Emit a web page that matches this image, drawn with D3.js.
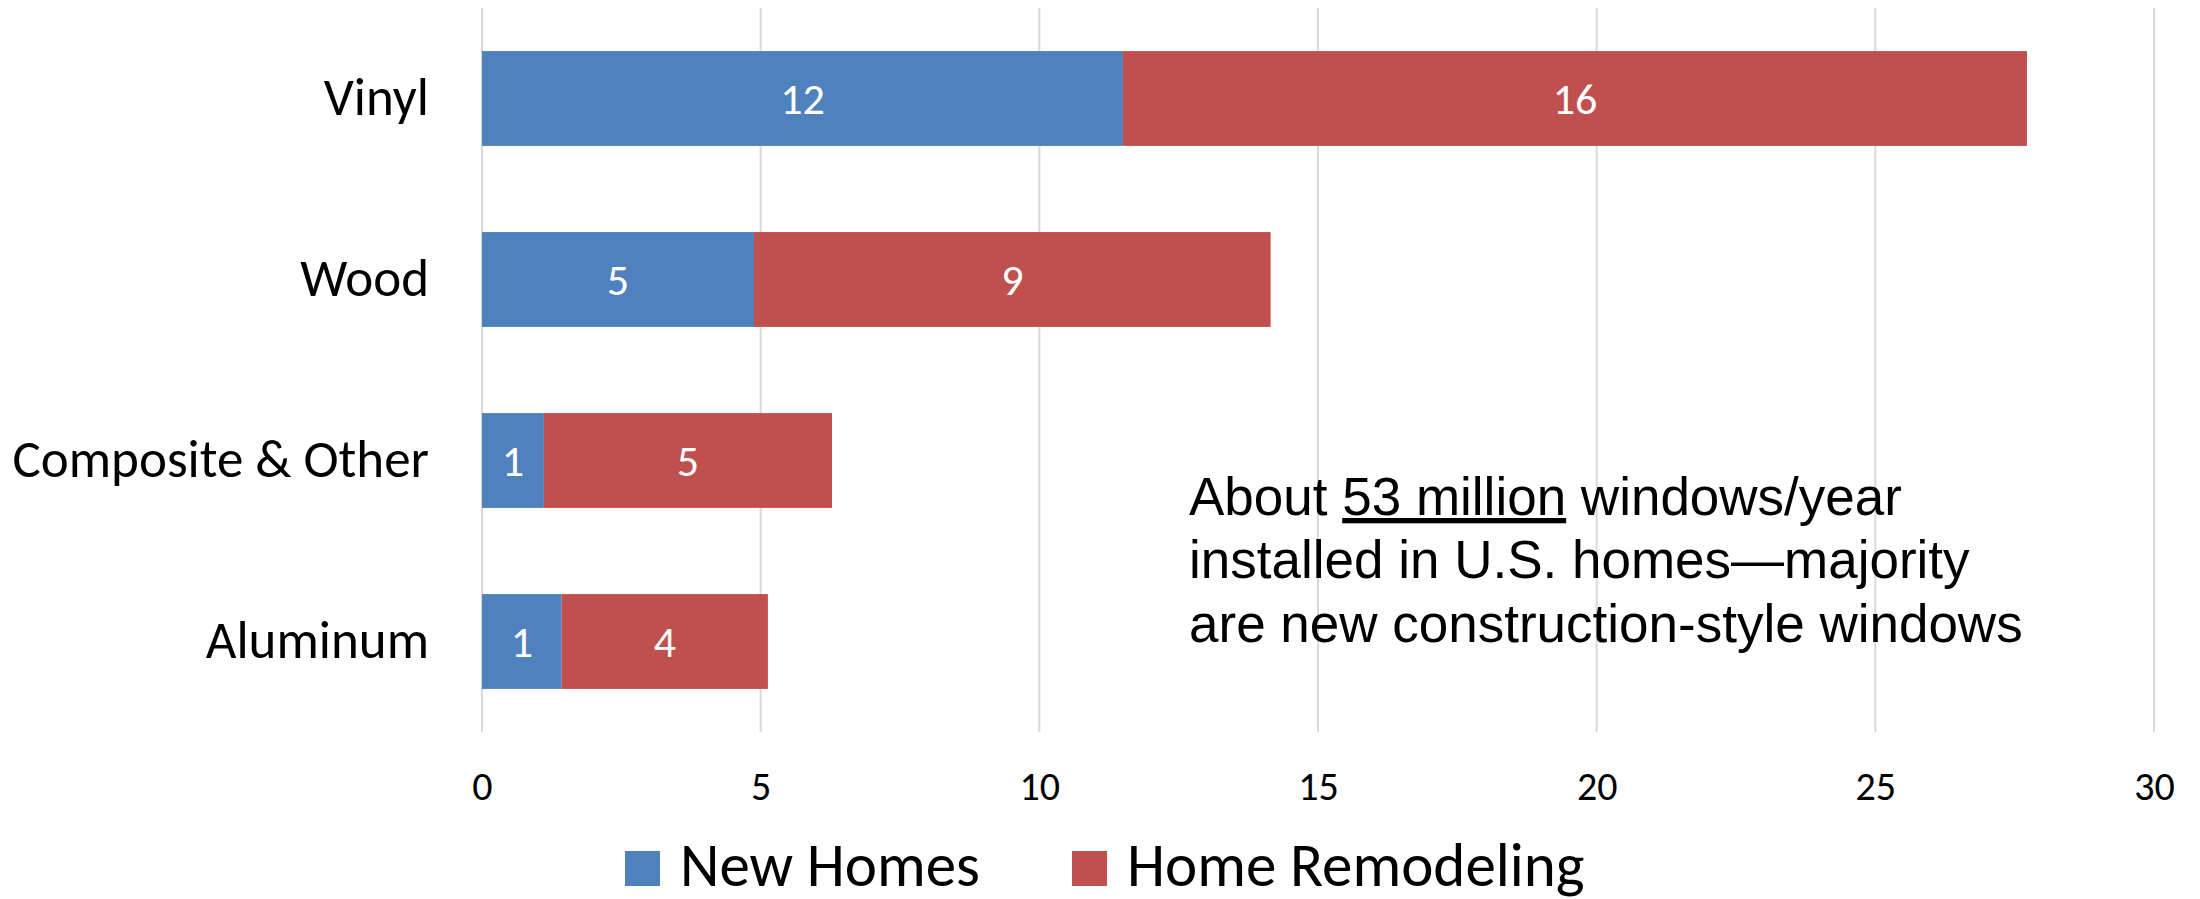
<!DOCTYPE html>
<html lang="en">
<head>
    <meta charset="UTF-8">
    <script src="https://d3js.org/d3.v7.min.js"></script>
    <title>Windows installed</title>
    <style>
        body { margin: 0; background: #fff; }
        .lbl { font-family: Carlito, Calibri, Lato, sans-serif; }
        .note { font-family: Arial, "Liberation Sans", sans-serif; }
    </style>
</head>
<body>
<div id="vis"></div>
<script>
    // values in millions of windows per year
    var categories = ["Vinyl", "Wood", "Composite & Other", "Aluminum"],
        newHomes = [11.5, 4.88, 1.11, 1.43],
        remodeling = [16.22, 9.27, 5.17, 3.70],
        seriesNames = ["New Homes", "Home Remodeling"],
        colors = ["#4F81BD", "#C0504D"],
        xTicks = [0, 5, 10, 15, 20, 25, 30];

    var width = 2200,
        height = 899,
        plotLeft = 482, plotRight = 2154, plotTop = 8, plotBottom = 732,
        svg = d3.select("#vis").append("svg").attr("width", width).attr("height", height);

    var x = d3.scaleLinear().domain([0, 30]).range([plotLeft, plotRight]),
        y = d3.scaleBand().domain(categories).range([plotTop, plotBottom])
            .paddingInner(0.476).paddingOuter(0.238);

    // gridlines
    svg.append("g").selectAll("line").data(xTicks).enter().append("line")
        .attr("x1", function(d){ return x(d); })
        .attr("x2", function(d){ return x(d); })
        .attr("y1", plotTop).attr("y2", plotBottom)
        .style("stroke", "#D9D9D9").style("stroke-width", 2);

    // x axis labels
    var xAxis = d3.axisBottom(x).tickValues(xTicks).tickSize(0).tickPadding(0);
    var gx = svg.append("g").attr("transform", "translate(0,772)").call(xAxis);
    gx.select(".domain").remove();
    gx.selectAll("text").attr("class", "lbl").attr("dy", "0.71em")
        .style("font-size", "40px").style("fill", "#000").style("font-family", null);

    // y axis labels
    var yAxis = d3.axisLeft(y).tickSize(0).tickPadding(0);
    var gy = svg.append("g").attr("transform", "translate(429,0)").call(yAxis);
    gy.select(".domain").remove();
    gy.selectAll("text").attr("class", "lbl")
        .style("font-size", "53px").style("fill", "#000").style("font-family", null);

    // stacked bars
    var rows = categories.map(function(c, i){ return {cat: c, vals: [newHomes[i], remodeling[i]]}; });
    var stack = [];
    rows.forEach(function(r){
        var x0 = 0;
        r.vals.forEach(function(v, s){
            stack.push({cat: r.cat, s: s, x0: x0, x1: x0 + v, v: v});
            x0 += v;
        });
    });

    var seg = svg.append("g").selectAll("g").data(stack).enter().append("g");
    seg.append("rect")
        .attr("x", function(d){ return x(d.x0); })
        .attr("y", function(d){ return y(d.cat); })
        .attr("width", function(d){ return x(d.x1) - x(d.x0); })
        .attr("height", y.bandwidth())
        .style("fill", function(d){ return colors[d.s]; });
    seg.append("text").attr("class", "lbl")
        .attr("x", function(d){ return (x(d.x0) + x(d.x1)) / 2; })
        .attr("y", function(d){ return y(d.cat) + y.bandwidth() / 2; })
        .attr("dy", "0.36em")
        .attr("text-anchor", "middle")
        .style("font-size", "44px").style("fill", "#fff")
        .text(function(d){ return d3.format(".0f")(d.v); });

    // annotation
    var note = svg.append("text").attr("class", "note").attr("x", 1189)
        .style("font-size", "53px").style("fill", "#000");
    var l1 = note.append("tspan").attr("x", 1189).attr("y", 515);
    l1.append("tspan").text("About ");
    l1.append("tspan").style("text-decoration", "underline").text("53 million");
    l1.append("tspan").text(" windows/year");
    note.append("tspan").attr("x", 1189).attr("y", 578).text("installed in U.S. homes\u2014majority");
    note.append("tspan").attr("x", 1189).attr("y", 642).text("are new construction-style windows");

    // legend
    var legX = [625, 1072];
    var leg = svg.append("g").selectAll("g").data(seriesNames).enter().append("g")
        .attr("transform", function(d, i){ return "translate(" + legX[i] + ",851)"; });
    leg.append("rect").attr("width", 35).attr("height", 35)
        .style("fill", function(d, i){ return colors[i]; });
    leg.append("text").attr("class", "lbl").attr("x", 55).attr("y", 35)
        .style("font-size", "61px").style("fill", "#000")
        .text(function(d){ return d; });
</script>
</body>
</html>
